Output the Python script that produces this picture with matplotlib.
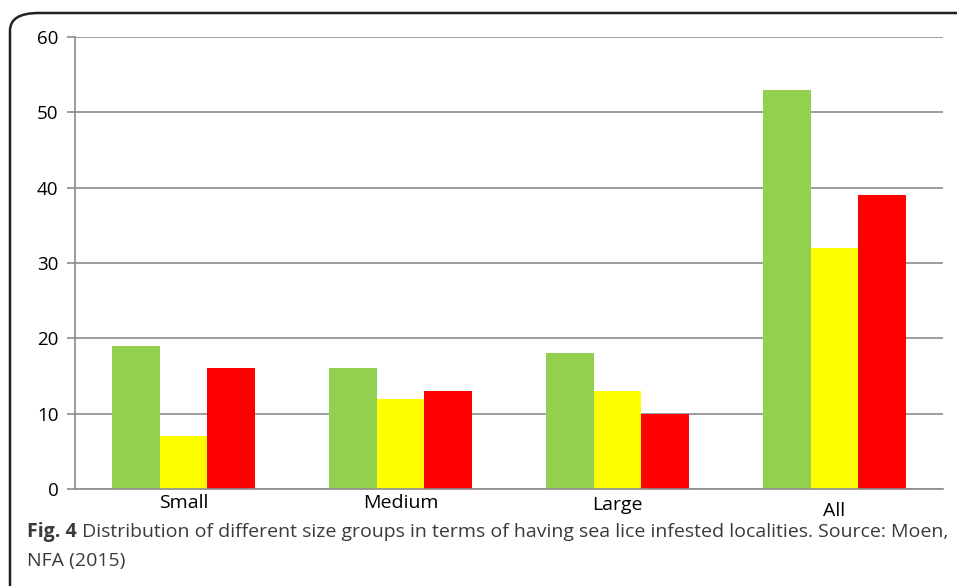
import matplotlib.pyplot as plt
import numpy as np
from matplotlib.patches import FancyBboxPatch

categories = ["Small", "Medium", "Large", "All"]
green_vals = [19, 16, 18, 53]
yellow_vals = [7, 12, 13, 32]
red_vals = [16, 13, 10, 39]
yticks = [0, 10, 20, 30, 40, 50, 60]
caption_bold = "Fig. 4"
caption_line1 = " Distribution of different size groups in terms of having sea lice infested localities. Source: Moen,"
caption_line2 = "NFA (2015)"

W, H = 957, 586
fig = plt.figure(figsize=(W / 100, H / 100), dpi=100)

# rounded frame that runs off the right and bottom edges
frame = FancyBboxPatch((10 / W, -0.1), 1.1, (H - 13) / H + 0.1,
                       boxstyle="round,pad=0,rounding_size=0.03",
                       transform=fig.transFigure, fill=False,
                       edgecolor="#222222", linewidth=1.8)
fig.patches.append(frame)

ax = fig.add_axes([75 / W, 1 - 489 / H, (943 - 75) / W, (489 - 37) / H])
x = np.arange(len(categories))
w = 0.221
ax.bar(x - w, green_vals, w, color="#92D050")
ax.bar(x, yellow_vals, w, color="#FFFF00")
ax.bar(x + w, red_vals, w, color="#FF0000")

ax.set_xlim(-0.5, len(categories) - 0.5)
ax.set_ylim(0, 60)
ax.set_yticks(yticks)
ax.set_yticklabels([str(t) for t in yticks], fontsize=13.5, family="Open Sans")
ax.grid(True, axis="y", color="#8c8c8c", linewidth=1.2)
ax.set_axisbelow(True)
for s in ["top", "right"]:
    ax.spines[s].set_visible(False)
for s in ["left", "bottom"]:
    ax.spines[s].set_color("#8c8c8c")
    ax.spines[s].set_linewidth(1.2)
ax.tick_params(axis="y", length=6, color="#8c8c8c", width=1.2, pad=6)
ax.set_xticks([])

# category labels sit at slightly different heights in the original
label_drop = [14, 14, 16, 22]
for i, (c, d) in enumerate(zip(categories, label_drop)):
    ax.annotate(c, xy=(x[i], 0), xycoords=("data", "axes fraction"),
                xytext=(0, -d), textcoords="offset pixels",
                ha="center", va="center", fontsize=14, family="Open Sans")

t1 = fig.text(27 / W, 1 - 532 / H, caption_bold, fontsize=14, fontweight="bold",
              family="Open Sans", color="#3a3a3a", va="center")
fig.canvas.draw()
bb = t1.get_window_extent(fig.canvas.get_renderer())
fig.text(bb.x1 / W, 1 - 532 / H, caption_line1, fontsize=14, family="Open Sans",
         color="#3a3a3a", va="center")
fig.text(27 / W, 1 - 561 / H, caption_line2, fontsize=14, family="Open Sans",
         color="#3a3a3a", va="center")

fig.savefig("out.png", dpi=100)
